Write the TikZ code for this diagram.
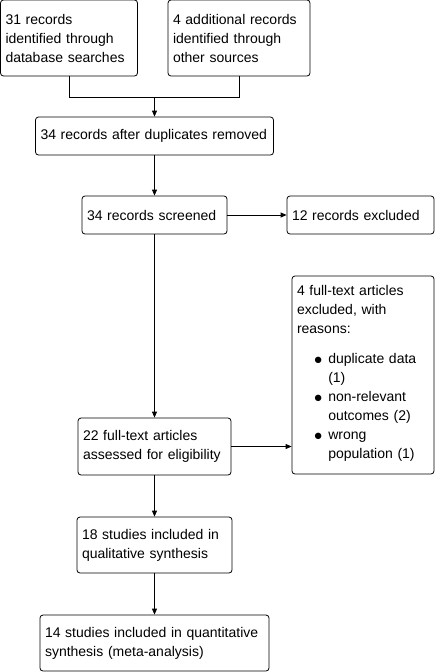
\documentclass[tikz,border=0pt]{standalone}
\usepackage{fontspec}
\setmainfont{Liberation Sans}
\usetikzlibrary{arrows.meta}
\begin{document}
\begin{tikzpicture}[x=1pt,y=-1pt,line width=0.8pt,
	box/.style={draw,rounded corners=3pt,align=left,inner xsep=5pt,inner ysep=0pt,font=\fontsize{14}{19}\selectfont},
	flow/.style={-{Triangle[length=6pt,width=5pt]}}]
	\useasboundingbox (0,0) rectangle (435,672);
	\node[box,minimum width=137pt,minimum height=76pt,text width=127pt] (dbsearch) at (69,38) {31 records\\identified through\\database searches};
	\node[box,minimum width=142pt,minimum height=76pt,text width=132pt] (othersrc) at (239,38) {4 additional records\\identified through\\other sources};
	\node[box,minimum width=238pt,minimum height=38pt,text width=228pt] (dedup) at (154.5,136) {34 records after duplicates removed};
	\node[box,minimum width=145pt,minimum height=38pt,text width=135pt] (screened) at (154.5,215) {34 records screened};
	\node[box,minimum width=147pt,minimum height=38pt,text width=137pt] (recexcl) at (360.5,215) {12 records excluded};
	\node[box,minimum width=142pt,minimum height=198pt,text width=132pt] (ftexcl) at (363,375) {4 full-text articles\\excluded, with\\reasons:\\[11pt]
		\begin{tabular}[t]{@{\hspace{17pt}}l@{\hspace{6pt}}l@{}}
			\raisebox{-0.6pt}{\scalebox{1.15}{$\bullet$}} & duplicate data\\
			& (1)\\
			\raisebox{-0.6pt}{\scalebox{1.15}{$\bullet$}} & non-relevant\\
			& outcomes (2)\\
			\raisebox{-0.6pt}{\scalebox{1.15}{$\bullet$}} & wrong\\
			& population (1)
		\end{tabular}};
	\node[box,minimum width=153pt,minimum height=57pt,text width=143pt] (fulltext) at (154.5,446.5) {22 full-text articles\\assessed for eligibility};
	\node[box,minimum width=155pt,minimum height=56pt,text width=145pt] (qual) at (154.5,545) {18 studies included in\\qualitative synthesis};
	\node[box,minimum width=229pt,minimum height=56pt,text width=219pt] (quant) at (154.5,643) {14 studies included in quantitative\\synthesis (meta-analysis)};
	\coordinate (join) at (154.5,97);
	\draw (dbsearch.south) |- (join);
	\draw (othersrc.south) |- (join);
	\draw[flow] (join) -- (dedup.north);
	\draw[flow] (dedup.south) -- (screened.north);
	\draw[flow] (screened.east) -- (recexcl.west);
	\draw[flow] (screened.south) -- (fulltext.north);
	\draw[flow] (fulltext.east) -- (fulltext.east -| ftexcl.west);
	\draw[flow] (fulltext.south) -- (qual.north);
	\draw[flow] (qual.south) -- (quant.north);
\end{tikzpicture}
\end{document}
